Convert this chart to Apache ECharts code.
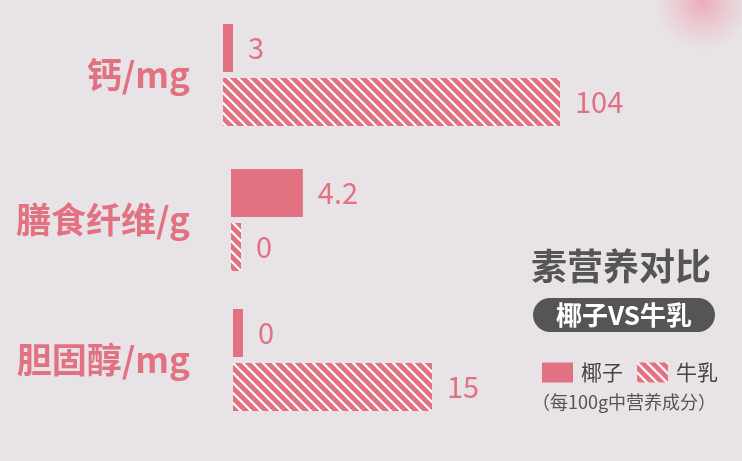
<!DOCTYPE html>
<html>
<head>
<meta charset="utf-8">
<script src="https://cdn.jsdelivr.net/npm/echarts@6/dist/echarts.min.js"></script>
<style>
html,body{margin:0;padding:0;background:#e8e3e7;}
#main{width:742px;height:461px;}
</style>
</head>
<body>
<div id="main"></div>
<script>
// 数据
var categories = ['钙/mg', '膳食纤维/g', '胆固醇/mg'];
var seriesNames = ['椰子', '牛乳'];
var coconut = [3, 4.2, 0];
var milk = [104, 0, 15];

var PINK = '#e27282';
var FONT = '"Noto Sans CJK SC", "Noto Sans", sans-serif';

// 每组单独一个坐标系（信息图里各组比例不同）
var bandCenter = [75, 220, 360];
var gridLeft = [223, 231, 233];
var axisMax = [104, 19.7, 25.4];
var labelShift = [0, -8, 0];

// 斜线填充
function stripePattern(){
    var c = document.createElement('canvas');
    c.width = 10; c.height = 10;
    var ctx = c.getContext('2d');
    ctx.fillStyle = PINK;
    ctx.fillRect(0, 0, 10, 10);
    ctx.strokeStyle = '#ffffff';
    ctx.lineWidth = 2.2;
    for(var k=-1; k<=1; k++){
        ctx.beginPath();
        ctx.moveTo(k*10 - 2, -2);
        ctx.lineTo(k*10 + 12, 12);
        ctx.stroke();
    }
    return c;
}
var stripe = {image: stripePattern(), repeat: 'repeat'};

var grids = [], xAxes = [], yAxes = [], series = [];
for(var i=0; i<categories.length; i++){
    grids.push({left: gridLeft[i], width: 337, top: bandCenter[i]-55, height: 110});
    xAxes.push({type: 'value', gridIndex: i, min: 0, max: axisMax[i], show: false});
    yAxes.push({
        type: 'category', gridIndex: i, data: [categories[i]], inverse: true,
        axisLine: {show: false}, axisTick: {show: false},
        axisLabel: {
            margin: gridLeft[i]-190, fontSize: 35, fontWeight: 'bold',
            color: PINK, fontFamily: FONT,
            padding: labelShift[i] < 0 ? [0,0,-labelShift[i]*2,0] : 0
        }
    });
    var vals = [coconut[i], milk[i]];
    for(var s=0; s<2; s++){
        series.push({
            name: seriesNames[s],
            type: 'bar',
            xAxisIndex: i, yAxisIndex: i,
            data: [vals[s]],
            barWidth: 48,
            barGap: '12.5%',
            barMinHeight: 10,
            itemStyle: {color: s==0 ? PINK : stripe},
            label: {
                show: true, position: 'right', distance: 15,
                fontSize: 29, color: PINK, fontFamily: FONT
            },
            emphasis: {disabled: true}
        });
    }
}

var chart = echarts.init(document.getElementById('main'));
chart.setOption({
    backgroundColor: '#e8e3e7',
    animation: false,
    grid: grids,
    xAxis: xAxes,
    yAxis: yAxes,
    legend: {
        data: seriesNames,
        left: 537, top: 357,
        itemWidth: 31, itemHeight: 20, itemGap: 14,
        icon: 'rect',
        textStyle: {fontSize: 21, color: '#444', fontFamily: FONT, padding: [0,0,0,3]}
    },
    graphic: [
        {
            type: 'circle', shape: {cx: 703, cy: 2, r: 48}, silent: true, z: -1,
            style: {fill: new echarts.graphic.RadialGradient(0.5, 0.5, 0.5, [
                {offset: 0, color: 'rgba(236,158,172,0.8)'},
                {offset: 0.5, color: 'rgba(236,158,172,0.35)'},
                {offset: 1, color: 'rgba(236,158,172,0)'}
            ])}
        },
        {
            type: 'text', left: 531, top: 248,
            style: {text: '素营养对比', fontSize: 36, fontWeight: 'bold', fill: '#555', fontFamily: FONT}
        },
        {
            type: 'rect', shape: {x: 533, y: 298, width: 182, height: 34, r: 17},
            style: {fill: '#555'}
        },
        {
            type: 'text', x: 624, y: 315,
            style: {text: '椰子VS牛乳', fontSize: 26, fontWeight: 'bold', fill: '#fff',
                    align: 'center', verticalAlign: 'middle', fontFamily: FONT}
        },
        {
            type: 'text', x: 624, y: 402,
            style: {text: '（每100g中营养成分）', fontSize: 18, fill: '#555',
                    align: 'center', verticalAlign: 'middle', fontFamily: FONT}
        }
    ],
    series: series
});
</script>
</body>
</html>
